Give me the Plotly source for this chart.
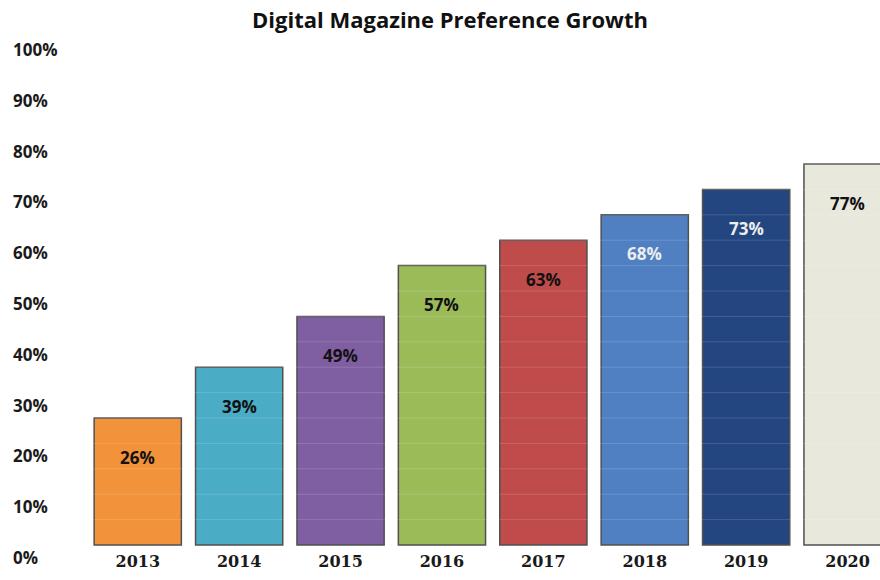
import plotly.graph_objects as go

years = ["2013", "2014", "2015", "2016", "2017", "2018", "2019", "2020"]
bar_heights = [25, 35, 45, 55, 60, 65, 70, 75]
bar_labels = ["26%", "39%", "49%", "57%", "63%", "68%", "73%", "77%"]
bar_colors = ["#F2923A", "#4BACC6", "#7F5FA1", "#9BBB59", "#BF4B4A", "#5180C2", "#234580", "#E9E8DD"]
label_colors = ["#111111", "#111111", "#111111", "#111111", "#111111", "#EDEDED", "#EDEDED", "#111111"]
y_ticks = [0, 10, 20, 30, 40, 50, 60, 70, 80, 90, 100]
y_ticktext = [f"{v}%" for v in y_ticks]

fig = go.Figure()
fig.add_trace(go.Bar(
    x=years, y=bar_heights,
    marker=dict(color=bar_colors, line=dict(color="#505050", width=1.5)),
    hoverinfo="skip",
))

for i, (h, lab, c) in enumerate(zip(bar_heights, bar_labels, label_colors)):
    fig.add_annotation(xref="x", yref="y", x=i, y=h, text="<b>" + lab + "</b>",
                       showarrow=False, yshift=-39,
                       yanchor="middle", xanchor="center",
                       font=dict(family="Open Sans", size=17, color=c))

for v in range(5, 100, 5):
    fig.add_shape(type="line", xref="paper", x0=0, x1=1, yref="y", y0=v, y1=v,
                  line=dict(color="rgba(255,255,255,0.15)", width=1), layer="above")

fig.update_layout(
    width=880, height=580,
    margin=dict(l=10, r=0, t=37, b=5),
    paper_bgcolor="white", plot_bgcolor="white",
    showlegend=False,
    bargap=0.14,
    title=dict(text="<b>Digital Magazine Preference Growth</b>", x=450 / 880, xanchor="center",
               y=1 - 20 / 580, yanchor="middle",
               font=dict(family="Open Sans", size=22, color="#111111")),
    xaxis=dict(range=[-1.26, 7.32], showgrid=False, zeroline=False, showline=False,
               ticks="", ticklabelposition="inside", ticklabelstandoff=2,
               tickfont=dict(family="DejaVu Serif", size=16, color="#1a1a1a", weight="bold")),
    yaxis=dict(range=[-5.9, 100], tickvals=y_ticks, ticktext=y_ticktext,
               showgrid=False, zeroline=False, showline=False, ticks="",
               ticklabelposition="inside", ticklabelshift=13, ticklabelstandoff=0,
               tickfont=dict(family="Open Sans", size=17, color="#1a1a1a", weight="bold")),
)

fig.write_html("out.html")
